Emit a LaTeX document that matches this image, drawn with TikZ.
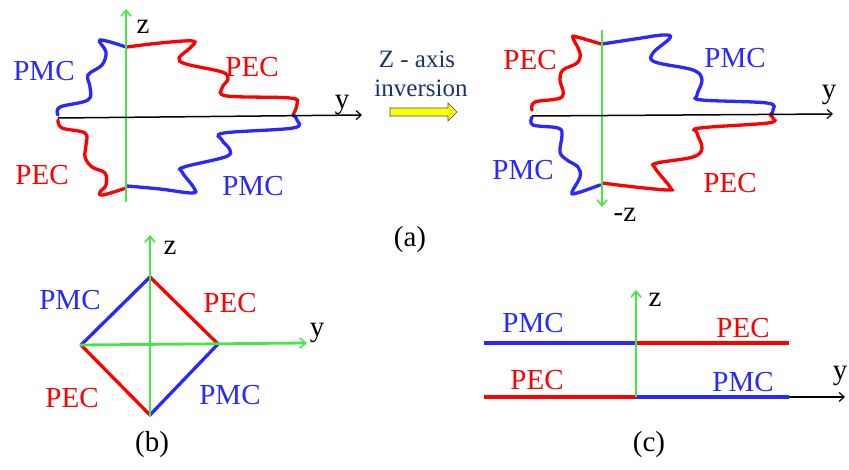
\documentclass[tikz,border=0pt]{standalone}
\usepackage{fontspec}
\setmainfont{Liberation Serif}
\usetikzlibrary{arrows.meta}
\definecolor{pr}{RGB}{255,0,0}
\definecolor{pb}{RGB}{40,40,255}
\definecolor{pg}{RGB}{70,230,70}
\definecolor{navy}{RGB}{30,50,110}
\definecolor{ayel}{RGB}{255,255,0}
\begin{document}
\begin{tikzpicture}[x=1pt,y=-1pt,
  lbl/.style={inner sep=0pt,font=\fontsize{29}{30}\selectfont},
  pec/.style={lbl,text=pr},
  pmc/.style={lbl,text=pb},
  axlbl/.style={lbl,text=black},
  redline/.style={pr,line width=3.3pt,line cap=round},
  blueline/.style={pb,line width=3.3pt,line cap=round},
  gax/.style={pg,line width=2.8pt,-{Straight Barb[length=6pt,width=10pt,line width=1.6pt]}},
  kax/.style={black,line width=1.5pt,-{Straight Barb[length=5pt,width=9pt,line width=1.2pt]}},
  curve/.style={smooth,tension=0.6}]
\useasboundingbox (0,0) rectangle (849,469);

% ---------- (a) left ----------
\draw[redline] plot[curve] coordinates {(127,47) (160,43) (193,41) (190,48) (179,58) (186,64) (222,72) (228,79) (222,88) (227,96) (290,98) (297,104) (293,115)};
\draw[blueline] plot[curve] coordinates {(126,47) (100,40) (106,52) (102,65) (88,75) (90,87) (88,100) (60,107) (58,115)};
\draw[redline] plot[curve] coordinates {(58,120) (62,128) (85,133) (86,145) (85,157) (92,167) (105,173) (106,185) (100,192) (103,195) (126,188)};
\draw[blueline] plot[curve] coordinates {(127,186) (160,189) (192,193) (194,188) (182,172) (184,167) (225,157) (230,150) (222,140) (224,133) (293,128) (297,120) (293,115)};
\coordinate (la0) at (126,202);
\coordinate (la1) at (126,9);
\coordinate (lb0) at (58,118);
\coordinate (lb1) at (362,115);
\draw[gax] (la0) -- (la1);
\draw[kax] (lb0) -- (lb1);
\node[axlbl] (lz) at (143,27) {z};
\node[axlbl] (ly) at (342,105) {y};
\node[pmc] (l1) at (44,71) {PMC};
\node[pec] (l2) at (252,67) {PEC};
\node[pec] (l3) at (42,175) {PEC};
\node[pmc] (l4) at (253,186) {PMC};

% ---------- middle ----------
\node[inner sep=0pt,text=navy,font=\fontsize{25}{26}\selectfont] (t1) at (417,59) {Z - axis};
\node[inner sep=0pt,text=navy,font=\fontsize{25}{26}\selectfont] (t2) at (421,88) {inversion};
\draw[fill=ayel,draw=navy!70!gray,line width=0.6pt] (390,108) -- (448,108) -- (448,103) -- (457,112) -- (448,121) -- (448,116) -- (390,116) -- cycle;

% ---------- (a) right ----------
\draw[redline] plot[curve] coordinates {(601,44) (577,37) (573,38) (580,53) (577,63) (563,70) (560,80) (562,97) (535,102) (532,110)};
\draw[blueline] plot[curve] coordinates {(602,44) (635,39) (663,35) (670,38) (653,53) (655,62) (693,70) (702,80) (697,95) (702,100) (767,103) (773,110) (770,115)};
\draw[blueline] plot[curve] coordinates {(532,117) (533,125) (558,128) (562,135) (560,152) (567,160) (578,167) (580,177) (572,192) (577,193) (600,185)};
\draw[redline] plot[curve] coordinates {(602,183) (635,187) (668,190) (670,187) (655,168) (657,163) (693,157) (702,148) (697,133) (700,128) (768,123) (773,118) (770,115)};
\coordinate (ra0) at (602,30);
\coordinate (ra1) at (602,207);
\coordinate (rb0) at (532,116);
\coordinate (rb1) at (833,114);
\draw[gax] (ra0) -- (ra1);
\draw[kax] (rb0) -- (rb1);
\node[axlbl] (rmz) at (625,215) {-z};
\node[axlbl] (ry) at (829,95) {y};
\node[pec] (r1) at (530,60) {PEC};
\node[pmc] (r2) at (735,58) {PMC};
\node[pmc] (r3) at (523,170) {PMC};
\node[pec] (r4) at (730,183) {PEC};
\node[axlbl] (capa) at (410,240) {(a)};

% ---------- (b) ----------
\coordinate (bt) at (150,277);
\coordinate (bl) at (81,345);
\coordinate (br) at (218,344);
\coordinate (bb) at (150,415);
\draw[blueline] (bt) -- (bl);
\draw[redline] (bt) -- (br);
\draw[redline] (bl) -- (bb);
\draw[blueline] (br) -- (bb);
\coordinate (bz0) at (150,417);
\coordinate (bz1) at (150,235);
\coordinate (by0) at (80,345);
\coordinate (by1) at (307,343);
\draw[gax] (bz0) -- (bz1);
\draw[gax] (by0) -- (by1);
\node[axlbl] (bzl) at (170,248) {z};
\node[axlbl] (byl) at (317,333) {y};
\node[pmc] (b1) at (70,300) {PMC};
\node[pec] (b2) at (230,303) {PEC};
\node[pec] (b3) at (72,398) {PEC};
\node[pmc] (b4) at (230,395) {PMC};
\node[axlbl] (capb) at (152,445) {(b)};

% ---------- (c) ----------
\coordinate (c1) at (484,343);
\coordinate (c2) at (636,343);
\coordinate (c3) at (789,343);
\coordinate (c4) at (484,397);
\coordinate (c5) at (636,397);
\coordinate (c6) at (789,397);
\coordinate (c7) at (845,397);
\coordinate (cz0) at (636,397);
\coordinate (cz1) at (636,290);
\draw[kax] (c5) -- (c7);
\draw[blueline,line cap=butt] (c1) -- (c2);
\draw[redline,line cap=butt] (c2) -- (c3);
\draw[redline,line cap=butt] (c4) -- (c5);
\draw[blueline,line cap=butt] (c5) -- (c6);
\draw[gax] (cz0) -- (cz1);
\node[axlbl] (czl) at (655,300) {z};
\node[axlbl] (cyl) at (840,376) {y};
\node[pmc] (cc1) at (533,323) {PMC};
\node[pec] (cc2) at (743,328) {PEC};
\node[pec] (cc3) at (537,380) {PEC};
\node[pmc] (cc4) at (743,382) {PMC};
\node[axlbl] (capc) at (649,445) {(c)};
\end{tikzpicture}
\end{document}
